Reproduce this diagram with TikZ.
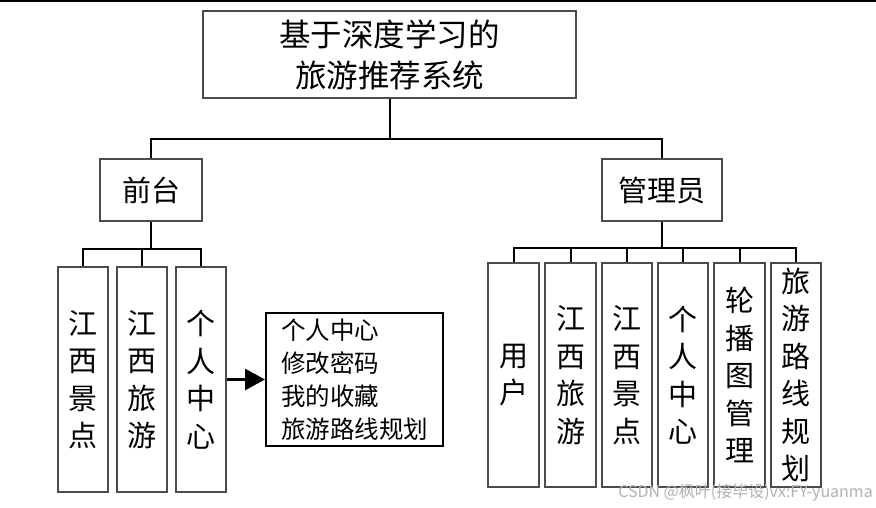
\documentclass[tikz,border=0pt]{standalone}
\usepackage{fontspec}
\usetikzlibrary{arrows.meta}
\newfontfamily\cjk{Noto Sans CJK SC}
\begin{document}
\begin{tikzpicture}[x=1pt,y=-1pt,
  box/.style={draw=black!70,line width=1.2pt,inner sep=0pt,fill=white,
    minimum width=#1,align=center,font=\cjk},
  titlefont/.style={font=\cjk\fontsize{31.5}{41}\selectfont},
  midfont/.style={font=\cjk\fontsize{29}{34}\selectfont},
  colfont/.style={font=\cjk\fontsize{29}{37.5}\selectfont},
  listfont/.style={font=\cjk\fontsize{24.5}{33}\selectfont},
  conn/.style={draw=black,line width=2pt},
  arrowline/.style={draw=black,line width=3pt,-{Triangle[length=20pt,width=21pt]}}]
\useasboundingbox (0,0) rectangle (876,508);
\fill[white] (0,0) rectangle (876,508);
% thin rule along the top edge
\fill[black] (0,0) rectangle (876,1.6);

% root
\node[box=373pt,minimum height=87pt,titlefont] (root) at (389.5,54.5)
  {基于深度学习的\\旅游推荐系统};

% second level
\node[box=102pt,minimum height=62pt,midfont] (qt) at (151,190) {前台};
\node[box=120pt,minimum height=62pt,midfont] (gl) at (662,190) {管理员};

% front-end modules
\node[box=50pt,minimum height=225pt,colfont] (l1) at (83,379.5) {江\\西\\景\\点};
\node[box=50pt,minimum height=225pt,colfont] (l2) at (142,379.5) {江\\西\\旅\\游};
\node[box=50pt,minimum height=225pt,colfont] (l3) at (201,379.5) {个\\人\\中\\心};

% personal centre details
\node[draw=black,line width=2pt,fill=white,minimum width=177pt,minimum height=133pt,
  inner sep=0pt,align=left,listfont] (lst) at (354.5,379.5)
  {个人中心\\修改密码\\我的收藏\\旅游路线规划};

% admin modules
\node[box=51pt,minimum height=224pt,colfont] (r1) at (513.5,375) {用\\户};
\node[box=51pt,minimum height=224pt,colfont] (r2) at (570.5,375) {江\\西\\旅\\游};
\node[box=50pt,minimum height=224pt,colfont] (r3) at (627,375) {江\\西\\景\\点};
\node[box=50pt,minimum height=224pt,colfont] (r4) at (683,375) {个\\人\\中\\心};
\node[box=51pt,minimum height=224pt,colfont] (r5) at (739.5,375) {轮\\播\\图\\管\\理};
\node[box=50pt,minimum height=224pt,colfont] (r6) at (796,375) {旅\\游\\路\\线\\规\\划};

% tree connectors
\coordinate (j0) at (389.5,139);
\coordinate (j1) at (151,249);
\coordinate (j2) at (662,247.5);
\draw[conn] (root.south) -- (j0);
\draw[conn] (j0) -| (qt.north);
\draw[conn] (j0) -| (gl.north);
\draw[conn] (qt.south) -- (j1);
\foreach \n in {l1,l2,l3} \draw[conn] (j1) -| (\n.north);
\draw[conn] (gl.south) -- (j2);
\foreach \n in {r1,r2,r3,r4,r5,r6} \draw[conn] (j2) -| (\n.north);

% arrow to the detail list
\draw[arrowline] (l3.east) -- (lst.west);

% watermark
\node[anchor=east,text=black!30,inner sep=0pt,font=\cjk\fontsize{16}{18}\selectfont]
  (wm) at (873,493) {CSDN @枫叶(接毕设)vx:FY-yuanma};
\end{tikzpicture}
\end{document}
